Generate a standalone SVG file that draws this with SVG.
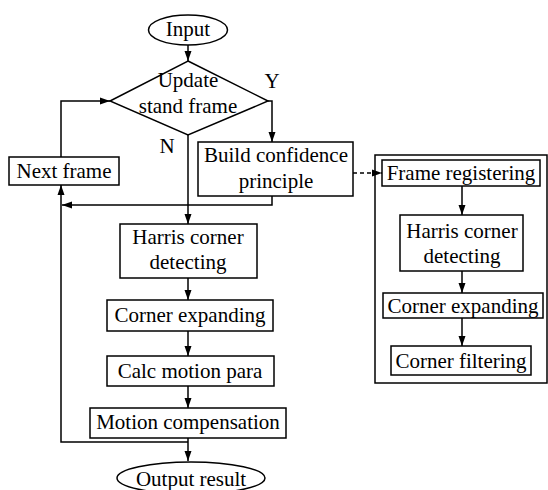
<svg xmlns="http://www.w3.org/2000/svg" width="548" height="490" viewBox="0 0 548 490">
<defs>
<style>
.n{fill:#fff;stroke:#000;stroke-width:1.5}
.t{font-family:"Liberation Serif","Times New Roman",serif;font-size:21px;fill:#000;text-anchor:middle}
.c{fill:none;stroke:#000;stroke-width:1.5}
.d{fill:none;stroke:#000;stroke-width:1.5;stroke-dasharray:4 3}
</style>
<marker id="a" viewBox="0 0 10 10" refX="10" refY="5" markerWidth="10" markerHeight="10" markerUnits="userSpaceOnUse" orient="auto">
<path d="M0,1.5 L10,5 L0,8.5 Z" fill="#000"/>
</marker>
</defs>
<rect x="0" y="0" width="548" height="490" fill="#fff"/>
<g id="connectors">
<path class="c" d="M188,45 V61" marker-end="url(#a)"/>
<path class="c" d="M268,101 H272 V142" marker-end="url(#a)"/>
<path class="c" d="M188,135 V224" marker-end="url(#a)"/>
<path class="c" d="M272,196 V205 H62" marker-end="url(#a)"/>
<path class="c" d="M61,157 V101 H110" marker-end="url(#a)"/>
<path class="c" d="M188,278 V300" marker-end="url(#a)"/>
<path class="c" d="M188,331 V356" marker-end="url(#a)"/>
<path class="c" d="M188,386 V408" marker-end="url(#a)"/>
<path class="c" d="M188,438 V461" marker-end="url(#a)"/>
<path class="c" d="M188,442 H61 V185" marker-end="url(#a)"/>
<path class="d" d="M353,173 H382" marker-end="url(#a)"/>
<path class="c" d="M462,186 V215" marker-end="url(#a)"/>
<path class="c" d="M462,271 V293" marker-end="url(#a)"/>
<path class="c" d="M462,318 V346" marker-end="url(#a)"/>
</g>
<g id="input">
<ellipse class="n" cx="188" cy="30" rx="39.5" ry="15"/>
<text class="t" x="188" y="36">Input</text>
</g>
<g id="update">
<polygon class="n" points="188,61 268,101 188,135 110,101" fill-opacity="0"/>
<text class="t" x="188" y="87">Update</text>
<text class="t" x="188" y="113">stand frame</text>
<text class="t" x="272" y="88">Y</text>
<text class="t" x="167" y="153">N</text>
</g>
<g id="next">
<rect class="n" x="9" y="157" width="110" height="28"/>
<text class="t" x="64" y="178">Next frame</text>
</g>
<g id="build">
<rect class="n" x="198" y="142" width="155" height="54"/>
<text class="t" x="276" y="162">Build confidence</text>
<text class="t" x="276" y="188">principle</text>
</g>
<g id="harris">
<rect class="n" x="120" y="224" width="137" height="54"/>
<text class="t" x="188" y="244">Harris corner</text>
<text class="t" x="188" y="269">detecting</text>
</g>
<g id="expand">
<rect class="n" x="107" y="300" width="166" height="31"/>
<text class="t" x="190" y="322">Corner expanding</text>
</g>
<g id="calc">
<rect class="n" x="107" y="356" width="167" height="30"/>
<text class="t" x="190" y="378">Calc motion para</text>
</g>
<g id="comp">
<rect class="n" x="90" y="408" width="196" height="30"/>
<text class="t" x="188" y="429">Motion compensation</text>
</g>
<g id="output">
<ellipse class="n" cx="191" cy="478" rx="74" ry="16"/>
<text class="t" x="191" y="486">Output result</text>
</g>
<g id="subprocess">
<rect class="c" x="375" y="155" width="172" height="228"/>
</g>
<g id="register">
<rect class="n" x="382" y="160" width="158" height="26"/>
<text class="t" x="461" y="180">Frame registering</text>
</g>
<g id="harris2">
<rect class="n" x="400" y="215" width="123" height="56"/>
<text class="t" x="462" y="238">Harris corner</text>
<text class="t" x="462" y="263">detecting</text>
</g>
<g id="expand2">
<rect class="n" x="383" y="293" width="160" height="25"/>
<text class="t" x="463" y="313">Corner expanding</text>
</g>
<g id="filter">
<rect class="n" x="391" y="346" width="140" height="29"/>
<text class="t" x="461" y="368">Corner filtering</text>
</g>
</svg>
